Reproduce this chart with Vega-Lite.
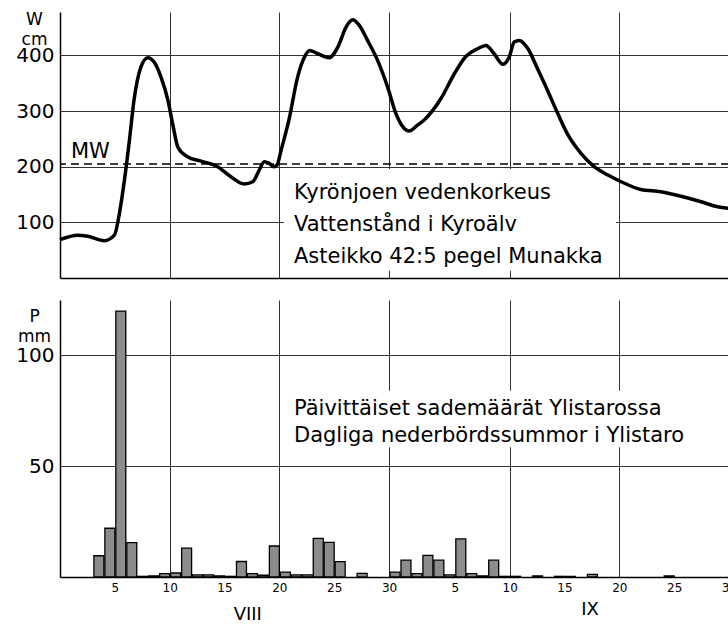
{
  "$schema": "https://vega.github.io/schema/vega-lite/v6.json",
  "autosize": {"type": "pad"},
  "padding": {"left": 15, "top": 10, "right": -8, "bottom": 0},
  "background": "white",
  "bounds": "flush",
  "spacing": 22,
  "config": {
    "view": {"stroke": null},
    "font": "DejaVu Sans",
    "text": {"font": "DejaVu Sans", "color": "#000"},
    "axis": {
      "labelFont": "DejaVu Sans", "titleFont": "DejaVu Sans",
      "labelColor": "#000", "titleColor": "#000",
      "domainColor": "#000", "domainWidth": 1.5,
      "gridColor": "#333", "gridWidth": 1, "gridOpacity": 1,
      "ticks": false, "titleFontWeight": "normal"
    }
  },
  "datasets": {
    "one": [{}],
    "level": [
      {"t": "1973-07-31T00:00Z", "w": 69},
      {"t": "1973-08-01T15:00Z", "w": 77},
      {"t": "1973-08-02T13:00Z", "w": 75},
      {"t": "1973-08-04T01:00Z", "w": 67},
      {"t": "1973-08-04T23:00Z", "w": 77},
      {"t": "1973-08-05T10:00Z", "w": 116},
      {"t": "1973-08-05T21:00Z", "w": 176},
      {"t": "1973-08-06T08:00Z", "w": 248},
      {"t": "1973-08-06T18:00Z", "w": 320},
      {"t": "1973-08-07T09:00Z", "w": 379},
      {"t": "1973-08-08T00:00Z", "w": 396},
      {"t": "1973-08-08T14:00Z", "w": 388},
      {"t": "1973-08-09T05:00Z", "w": 361},
      {"t": "1973-08-09T20:00Z", "w": 320},
      {"t": "1973-08-10T07:00Z", "w": 275},
      {"t": "1973-08-10T18:00Z", "w": 235},
      {"t": "1973-08-11T15:00Z", "w": 218},
      {"t": "1973-08-12T21:00Z", "w": 210},
      {"t": "1973-08-14T09:00Z", "w": 200},
      {"t": "1973-08-15T14:00Z", "w": 182},
      {"t": "1973-08-16T19:00Z", "w": 169},
      {"t": "1973-08-17T14:00Z", "w": 173},
      {"t": "1973-08-18T04:00Z", "w": 194},
      {"t": "1973-08-18T15:00Z", "w": 209},
      {"t": "1973-08-19T02:00Z", "w": 206},
      {"t": "1973-08-19T12:00Z", "w": 200},
      {"t": "1973-08-19T19:00Z", "w": 203},
      {"t": "1973-08-20T04:00Z", "w": 230},
      {"t": "1973-08-20T21:00Z", "w": 284},
      {"t": "1973-08-21T16:00Z", "w": 361},
      {"t": "1973-08-22T07:00Z", "w": 397},
      {"t": "1973-08-22T18:00Z", "w": 409},
      {"t": "1973-08-23T12:00Z", "w": 403},
      {"t": "1973-08-24T13:00Z", "w": 396},
      {"t": "1973-08-25T08:00Z", "w": 415},
      {"t": "1973-08-26T02:00Z", "w": 451},
      {"t": "1973-08-26T17:00Z", "w": 464},
      {"t": "1973-08-27T07:00Z", "w": 454},
      {"t": "1973-08-28T01:00Z", "w": 427},
      {"t": "1973-08-28T23:00Z", "w": 391},
      {"t": "1973-08-29T21:00Z", "w": 343},
      {"t": "1973-08-30T15:00Z", "w": 296},
      {"t": "1973-08-31T06:00Z", "w": 272},
      {"t": "1973-08-31T20:00Z", "w": 264},
      {"t": "1973-09-01T15:00Z", "w": 275},
      {"t": "1973-09-02T05:00Z", "w": 284},
      {"t": "1973-09-03T18:00Z", "w": 323},
      {"t": "1973-09-04T23:00Z", "w": 367},
      {"t": "1973-09-06T00:00Z", "w": 398},
      {"t": "1973-09-07T02:00Z", "w": 412},
      {"t": "1973-09-07T20:00Z", "w": 418},
      {"t": "1973-09-08T14:00Z", "w": 403},
      {"t": "1973-09-09T09:00Z", "w": 384},
      {"t": "1973-09-09T23:00Z", "w": 397},
      {"t": "1973-09-10T10:00Z", "w": 424},
      {"t": "1973-09-10T21:00Z", "w": 427},
      {"t": "1973-09-11T16:00Z", "w": 412},
      {"t": "1973-09-12T13:00Z", "w": 376},
      {"t": "1973-09-13T11:00Z", "w": 337},
      {"t": "1973-09-14T09:00Z", "w": 296},
      {"t": "1973-09-15T07:00Z", "w": 258},
      {"t": "1973-09-16T12:00Z", "w": 224},
      {"t": "1973-09-17T17:00Z", "w": 200},
      {"t": "1973-09-18T23:00Z", "w": 185},
      {"t": "1973-09-20T04:00Z", "w": 173},
      {"t": "1973-09-21T23:00Z", "w": 159},
      {"t": "1973-09-23T19:00Z", "w": 155},
      {"t": "1973-09-25T15:00Z", "w": 147},
      {"t": "1973-09-27T11:00Z", "w": 137},
      {"t": "1973-09-28T23:00Z", "w": 128},
      {"t": "1973-09-30T00:00Z", "w": 125}
    ],
    "rain": [
      {"d": "1973-08-03", "p": 9.6},
      {"d": "1973-08-04", "p": 22},
      {"d": "1973-08-05", "p": 120},
      {"d": "1973-08-06", "p": 15.5},
      {"d": "1973-08-07", "p": 0.3},
      {"d": "1973-08-08", "p": 0.5},
      {"d": "1973-08-09", "p": 1.5},
      {"d": "1973-08-10", "p": 1.8},
      {"d": "1973-08-11", "p": 13},
      {"d": "1973-08-12", "p": 1},
      {"d": "1973-08-13", "p": 1},
      {"d": "1973-08-14", "p": 0.5},
      {"d": "1973-08-15", "p": 0.3},
      {"d": "1973-08-16", "p": 7},
      {"d": "1973-08-17", "p": 1.5},
      {"d": "1973-08-18", "p": 0.8},
      {"d": "1973-08-19", "p": 14},
      {"d": "1973-08-20", "p": 2.2},
      {"d": "1973-08-21", "p": 1},
      {"d": "1973-08-22", "p": 1},
      {"d": "1973-08-23", "p": 17.4},
      {"d": "1973-08-24", "p": 15.6},
      {"d": "1973-08-25", "p": 6.9},
      {"d": "1973-08-27", "p": 1.6},
      {"d": "1973-08-30", "p": 2.2},
      {"d": "1973-08-31", "p": 7.6},
      {"d": "1973-09-01", "p": 1.5},
      {"d": "1973-09-02", "p": 9.8},
      {"d": "1973-09-03", "p": 7.6},
      {"d": "1973-09-04", "p": 1},
      {"d": "1973-09-05", "p": 17.2},
      {"d": "1973-09-06", "p": 1.5},
      {"d": "1973-09-07", "p": 0.5},
      {"d": "1973-09-08", "p": 7.6},
      {"d": "1973-09-09", "p": 0.3},
      {"d": "1973-09-10", "p": 0.3},
      {"d": "1973-09-12", "p": 0.5},
      {"d": "1973-09-14", "p": 0.3},
      {"d": "1973-09-15", "p": 0.3},
      {"d": "1973-09-17", "p": 1.2},
      {"d": "1973-09-24", "p": 0.5}
    ]
  },
  "vconcat": [
    {
      "width": 669,
      "height": 266,
      "layer": [
        {
          "data": {"name": "one"},
          "mark": {"type": "rect", "fill": "white", "strokeWidth": 0},
          "encoding": {
            "x": {"datum": {"year": 1973, "month": 8, "date": 20, "hours": 10, "utc": true}, "type": "temporal"},
            "x2": {"datum": {"year": 1973, "month": 9, "date": 19, "hours": 17, "utc": true}},
            "y": {"datum": 196, "type": "quantitative"},
            "y2": {"datum": 13}
          }
        },
        {
          "data": {"name": "one"},
          "mark": {"type": "rule", "color": "#000", "strokeWidth": 1.5, "strokeDash": [8, 5]},
          "encoding": {"y": {"datum": 205, "type": "quantitative"}}
        },
        {
          "data": {"name": "level"},
          "mark": {"type": "line", "color": "#000", "strokeWidth": 3.5, "interpolate": "monotone"},
          "encoding": {
            "x": {
              "field": "t", "type": "temporal", "title": null,
              "scale": {"type": "utc", "nice": false, "domain": [{"year": 1973, "month": 7, "date": 31, "utc": true}, {"year": 1973, "month": 9, "date": 30, "utc": true}]},
              "axis": {
                "title": null, "labels": false, "grid": true,
                "values": [
                  {"year": 1973, "month": 8, "date": 10, "utc": true},
                  {"year": 1973, "month": 8, "date": 20, "utc": true},
                  {"year": 1973, "month": 8, "date": 30, "utc": true},
                  {"year": 1973, "month": 9, "date": 10, "utc": true},
                  {"year": 1973, "month": 9, "date": 20, "utc": true},
                  {"year": 1973, "month": 9, "date": 30, "utc": true}
                ]
              }
            },
            "y": {
              "field": "w", "type": "quantitative",
              "scale": {"domain": [0, 478], "nice": false},
              "axis": {
                "values": [100, 200, 300, 400], "grid": true,
                "labelFontSize": 20, "labelPadding": 6,
                "title": ["W", "cm"], "titleAngle": 0, "titleAlign": "center",
                "titleBaseline": "alphabetic", "titleX": -26, "titleY": 12,
                "titleFontSize": 17, "titleLineHeight": 20
              }
            }
          }
        },
        {
          "data": {"name": "one"},
          "mark": {"type": "text", "text": "MW", "fontSize": 21, "align": "left", "baseline": "bottom", "dy": -2},
          "encoding": {
            "x": {"datum": {"year": 1973, "month": 8, "date": 1, "utc": true}, "type": "temporal"},
            "y": {"datum": 205, "type": "quantitative"}
          }
        },
        {
          "data": {"name": "one"},
          "mark": {"type": "text", "text": ["Kyrönjoen vedenkorkeus", "Vattenstånd i Kyroälv", "Asteikko 42:5 pegel Munakka"], "fontSize": 21, "lineHeight": 32, "align": "left", "baseline": "middle"},
          "encoding": {
            "x": {"datum": {"year": 1973, "month": 8, "date": 21, "hours": 8, "utc": true}, "type": "temporal"},
            "y": {"datum": 152, "type": "quantitative"}
          }
        }
      ]
    },
    {
      "width": 669,
      "height": 277,
      "layer": [
        {
          "data": {"name": "one"},
          "mark": {"type": "rect", "fill": "white", "strokeWidth": 0},
          "encoding": {
            "x": {"datum": {"year": 1973, "month": 8, "date": 20, "hours": 14, "utc": true}, "type": "temporal"},
            "x2": {"datum": {"year": 1973, "month": 9, "date": 28, "utc": true}},
            "y": {"datum": 84, "type": "quantitative"},
            "y2": {"datum": 58.5}
          }
        },
        {
          "data": {"name": "rain"},
          "mark": {"type": "bar", "fill": "#8c8c8c", "stroke": "#000", "strokeWidth": 1.3},
          "encoding": {
            "x": {
              "field": "d", "type": "temporal", "timeUnit": "utcyearmonthdate", "title": null,
              "scale": {"type": "utc", "nice": false, "domain": [{"year": 1973, "month": 7, "date": 31, "utc": true}, {"year": 1973, "month": 9, "date": 30, "utc": true}]},
              "axis": {
                "title": null, "format": "%-d", "labelFontSize": 12, "labelPadding": 5,
                "labelOverlap": false, "labelFlush": false, "labelBound": false,
                "grid": true,
                "gridOpacity": {"condition": {"test": "utcdate(datum.value) % 10 === 0", "value": 1}, "value": 0},
                "values": [
                  {"year": 1973, "month": 8, "date": 5, "utc": true},
                  {"year": 1973, "month": 8, "date": 10, "utc": true},
                  {"year": 1973, "month": 8, "date": 15, "utc": true},
                  {"year": 1973, "month": 8, "date": 20, "utc": true},
                  {"year": 1973, "month": 8, "date": 25, "utc": true},
                  {"year": 1973, "month": 8, "date": 30, "utc": true},
                  {"year": 1973, "month": 9, "date": 5, "utc": true},
                  {"year": 1973, "month": 9, "date": 10, "utc": true},
                  {"year": 1973, "month": 9, "date": 15, "utc": true},
                  {"year": 1973, "month": 9, "date": 20, "utc": true},
                  {"year": 1973, "month": 9, "date": 25, "utc": true},
                  {"year": 1973, "month": 9, "date": 30, "utc": true}
                ]
              }
            },
            "y": {
              "field": "p", "type": "quantitative",
              "scale": {"domain": [0, 125], "nice": false},
              "axis": {
                "values": [50, 100], "grid": true,
                "labelFontSize": 20, "labelPadding": 6,
                "title": ["P", "mm"], "titleAngle": 0, "titleAlign": "center",
                "titleBaseline": "alphabetic", "titleX": -26, "titleY": 21,
                "titleFontSize": 17, "titleLineHeight": 20
              }
            }
          }
        },
        {
          "data": {"name": "one"},
          "mark": {"type": "text", "text": ["Päivittäiset sademäärät Ylistarossa", "Dagliga nederbördssummor i Ylistaro"], "fontSize": 21, "lineHeight": 27, "align": "left", "baseline": "middle"},
          "encoding": {
            "x": {"datum": {"year": 1973, "month": 8, "date": 21, "hours": 8, "utc": true}, "type": "temporal"},
            "y": {"datum": 76, "type": "quantitative"}
          }
        },
        {
          "data": {"name": "one"},
          "mark": {"type": "text", "text": "VIII", "fontSize": 18, "align": "center", "baseline": "middle"},
          "encoding": {
            "x": {"datum": {"year": 1973, "month": 8, "date": 17, "hours": 3, "utc": true}, "type": "temporal"},
            "y": {"datum": -17, "type": "quantitative"}
          }
        },
        {
          "data": {"name": "one"},
          "mark": {"type": "text", "text": "IX", "fontSize": 18, "align": "center", "baseline": "middle"},
          "encoding": {
            "x": {"datum": {"year": 1973, "month": 9, "date": 17, "hours": 8, "utc": true}, "type": "temporal"},
            "y": {"datum": -15, "type": "quantitative"}
          }
        }
      ]
    }
  ]
}
